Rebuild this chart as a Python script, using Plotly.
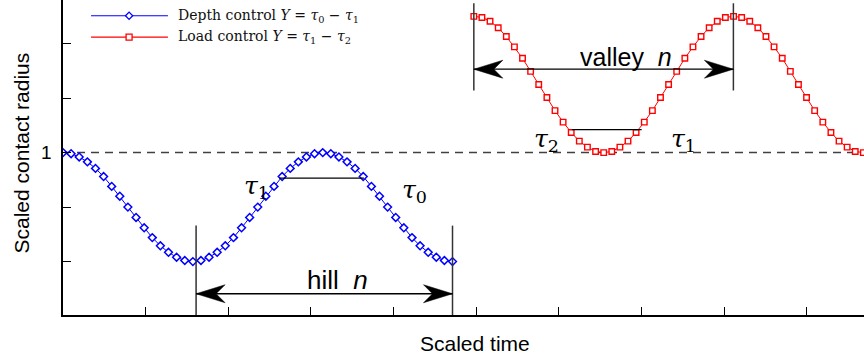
import plotly.graph_objects as go

# ---------------- data ----------------
depth_time = [0.000, 0.098, 0.196, 0.295, 0.393, 0.491, 0.589, 0.687, 0.785, 0.884,
              0.982, 1.080, 1.178, 1.276, 1.374, 1.473, 1.571, 1.669, 1.767, 1.865,
              1.963, 2.062, 2.160, 2.258, 2.356, 2.454, 2.553, 2.651, 2.749, 2.847,
              2.945, 3.043, 3.142, 3.240, 3.338, 3.436, 3.534, 3.632, 3.731, 3.829,
              3.927, 4.025, 4.123, 4.222, 4.320, 4.418, 4.516, 4.614, 4.712]
depth_radius = [1.000, 0.998, 0.992, 0.983, 0.971, 0.956, 0.938, 0.920, 0.900, 0.881,
                0.862, 0.844, 0.829, 0.817, 0.808, 0.802, 0.800, 0.802, 0.808, 0.817,
                0.829, 0.844, 0.862, 0.881, 0.900, 0.920, 0.938, 0.956, 0.971, 0.983,
                0.992, 0.998, 1.000, 0.998, 0.992, 0.983, 0.971, 0.956, 0.938, 0.920,
                0.900, 0.881, 0.862, 0.844, 0.829, 0.817, 0.808, 0.802, 0.800]

load_time = [4.970, 5.068, 5.166, 5.265, 5.363, 5.461, 5.559, 5.657, 5.755, 5.854,
             5.952, 6.050, 6.148, 6.246, 6.344, 6.443, 6.541, 6.639, 6.737, 6.835,
             6.933, 7.032, 7.130, 7.228, 7.326, 7.424, 7.523, 7.621, 7.719, 7.817,
             7.915, 8.013, 8.112, 8.210, 8.308, 8.406, 8.504, 8.602, 8.701, 8.799,
             8.897, 8.995, 9.093, 9.192, 9.290, 9.388, 9.486, 9.584, 9.682]
load_radius = [1.250, 1.248, 1.241, 1.229, 1.213, 1.194, 1.173, 1.149, 1.125, 1.101,
               1.077, 1.056, 1.037, 1.021, 1.010, 1.002, 1.000, 1.002, 1.010, 1.021,
               1.037, 1.056, 1.077, 1.101, 1.125, 1.149, 1.173, 1.194, 1.213, 1.229,
               1.241, 1.248, 1.250, 1.248, 1.241, 1.229, 1.213, 1.194, 1.173, 1.149,
               1.125, 1.101, 1.077, 1.056, 1.037, 1.021, 1.010, 1.002, 1.000]

x_ticks = [1, 2, 3, 4, 5, 6, 7, 8, 9]
y_ticks = [0.8, 0.9, 1.0, 1.1, 1.2]
y_label_value = 1.0
y_label_text = "1"

legend_labels = ["Depth control <i>Y</i> = <i>τ</i><sub>0</sub> − <i>τ</i><sub>1</sub>",
                 "Load control <i>Y</i> = <i>τ</i><sub>1</sub> − <i>τ</i><sub>2</sub>"]

# annotation positions (data units)
hill_span = [1.61, 4.712]
hill_arrow_y = 0.741
hill_bar_top = 0.866
valley_span = [4.97, 8.11]
valley_arrow_y = 1.153
valley_bar = [1.114, 1.274]
blue_tau_line = [2.617, 3.641, 0.953]
red_tau_line = [6.16, 7.0, 1.042]

BLUE = "#0000ff"
RED = "#ff0000"
SANS = "Liberation Sans, Arial, sans-serif"
SERIF = "DejaVu Serif, serif"

fig = go.Figure()
fig.add_trace(go.Scatter(
    x=depth_time, y=depth_radius, mode="lines+markers",
    line=dict(color=BLUE, width=1),
    marker=dict(symbol="diamond", size=6, color="white", line=dict(color=BLUE, width=1.5)),
    showlegend=False, hoverinfo="skip"))
fig.add_trace(go.Scatter(
    x=load_time, y=load_radius, mode="lines+markers",
    line=dict(color=RED, width=1),
    marker=dict(symbol="square", size=5.5, color="white", line=dict(color=RED, width=1.4)),
    showlegend=False, hoverinfo="skip"))

shapes = []
# dashed reference line at 1
shapes.append(dict(type="line", xref="paper", yref="y", x0=0, x1=1, y0=1, y1=1,
                   line=dict(color="#404040", width=1.5, dash="8px,6px"), layer="below"))

BAR = dict(color="#333333", width=1.5)
# hill bracket
for xv in hill_span:
    shapes.append(dict(type="line", xref="x", yref="y", x0=xv, x1=xv, y0=0.702, y1=hill_bar_top, line=BAR))
shapes.append(dict(type="line", xref="x", yref="y", x0=hill_span[0], x1=hill_span[1],
                   y0=hill_arrow_y, y1=hill_arrow_y, line=dict(color="black", width=1.3)))
# valley bracket
for xv in valley_span:
    shapes.append(dict(type="line", xref="x", yref="y", x0=xv, x1=xv, y0=valley_bar[0], y1=valley_bar[1], line=BAR))
shapes.append(dict(type="line", xref="x", yref="y", x0=valley_span[0], x1=valley_span[1],
                   y0=valley_arrow_y, y1=valley_arrow_y, line=dict(color="black", width=1.3)))

# arrow heads (pixel-sized paths)
LEFT_HEAD = "M0,0 L29,9 L20,0 L29,-9 Z"
RIGHT_HEAD = "M0,0 L-29,9 L-20,0 L-29,-9 Z"
for (xl, xr), yv in [(hill_span, hill_arrow_y), (valley_span, valley_arrow_y)]:
    shapes.append(dict(type="path", xref="x", yref="y", xsizemode="pixel", ysizemode="pixel",
                       xanchor=xl, yanchor=yv, path=LEFT_HEAD, fillcolor="black",
                       line=dict(color="black", width=0.5)))
    shapes.append(dict(type="path", xref="x", yref="y", xsizemode="pixel", ysizemode="pixel",
                       xanchor=xr, yanchor=yv, path=RIGHT_HEAD, fillcolor="black",
                       line=dict(color="black", width=0.5)))

# tau lines
shapes.append(dict(type="line", xref="x", yref="y", x0=blue_tau_line[0], x1=blue_tau_line[1],
                   y0=blue_tau_line[2], y1=blue_tau_line[2], line=dict(color="black", width=1.2)))
shapes.append(dict(type="line", xref="x", yref="y", x0=red_tau_line[0], x1=red_tau_line[1],
                   y0=red_tau_line[2], y1=red_tau_line[2], line=dict(color="black", width=1.2)))

# manual legend
leg_y = [0.950, 0.882]
leg_cols = [BLUE, RED]
leg_paths = ["M-3.6,0 L0,3.6 L3.6,0 L0,-3.6 Z", "M-3,-3 H3 V3 H-3 Z"]
for yv, col, pth in zip(leg_y, leg_cols, leg_paths):
    shapes.append(dict(type="line", xref="paper", yref="paper", x0=0.035, x1=0.131, y0=yv, y1=yv,
                       line=dict(color=col, width=1.2)))
    shapes.append(dict(type="path", xref="paper", yref="paper", xsizemode="pixel", ysizemode="pixel",
                       xanchor=0.0825, yanchor=yv, path=pth, fillcolor="white",
                       line=dict(color=col, width=1.3)))

annotations = []
for yv, txt in zip(leg_y, legend_labels):
    annotations.append(dict(xref="paper", yref="paper", x=0.141, y=yv, text=txt, showarrow=False,
                            xanchor="left", yanchor="middle",
                            font=dict(family=SERIF, size=14, color="#111")))

TAU_FONT = dict(family=SERIF, size=25, color="black")
for xv, yv, txt in [(2.335, 0.937, "<i>τ</i><sub>1</sub>"), (4.258, 0.930, "<i>τ</i><sub>0</sub>"),
                    (5.843, 1.023, "<i>τ</i><sub>2</sub>"), (7.512, 1.023, "<i>τ</i><sub>1</sub>")]:
    annotations.append(dict(xref="x", yref="y", x=xv, y=yv, text=txt, showarrow=False, font=TAU_FONT))

annotations.append(dict(xref="x", yref="y", x=3.315, y=0.766, text="hill\u00a0\u00a0<i>n</i>",
                        showarrow=False, font=dict(family=SANS, size=26, color="black")))
annotations.append(dict(xref="x", yref="y", x=6.811, y=1.176, text="valley\u00a0\u00a0<i>n</i>",
                        showarrow=False, font=dict(family=SANS, size=25, color="black")))

# y tick label "1"
annotations.append(dict(xref="paper", yref="y", x=0, y=y_label_value, text=y_label_text,
                        showarrow=False, xanchor="right", yanchor="middle", xshift=-9,
                        font=dict(family=SANS, size=19, color="black")))

# axis titles
annotations.append(dict(xref="paper", yref="paper", x=0.5144, y=-0.089, text="Scaled time",
                        showarrow=False, xanchor="center", yanchor="middle",
                        font=dict(family=SANS, size=21, color="black")))
annotations.append(dict(xref="paper", yref="paper", x=-0.0524, y=0.5127, text="Scaled contact radius",
                        showarrow=False, xanchor="center", yanchor="middle", textangle=-90,
                        font=dict(family=SANS, size=21, color="black")))

fig.update_layout(
    width=864, height=360,
    margin=dict(l=63, r=0, t=0, b=45),
    paper_bgcolor="white", plot_bgcolor="white",
    showlegend=False,
    shapes=shapes, annotations=annotations,
    xaxis=dict(range=[0, 9.69], tickvals=x_ticks, showticklabels=False,
               ticks="inside", ticklen=8, tickwidth=1.2, tickcolor="black",
               showline=True, linecolor="black", linewidth=1.6,
               showgrid=False, zeroline=False, fixedrange=True),
    yaxis=dict(range=[0.702, 1.28], tickvals=y_ticks, showticklabels=False,
               ticks="inside", ticklen=8, tickwidth=1.2, tickcolor="black",
               showline=True, linecolor="black", linewidth=1.6,
               showgrid=False, zeroline=False, fixedrange=True),
)

fig.write_html("out.html", config={"displayModeBar": False})
